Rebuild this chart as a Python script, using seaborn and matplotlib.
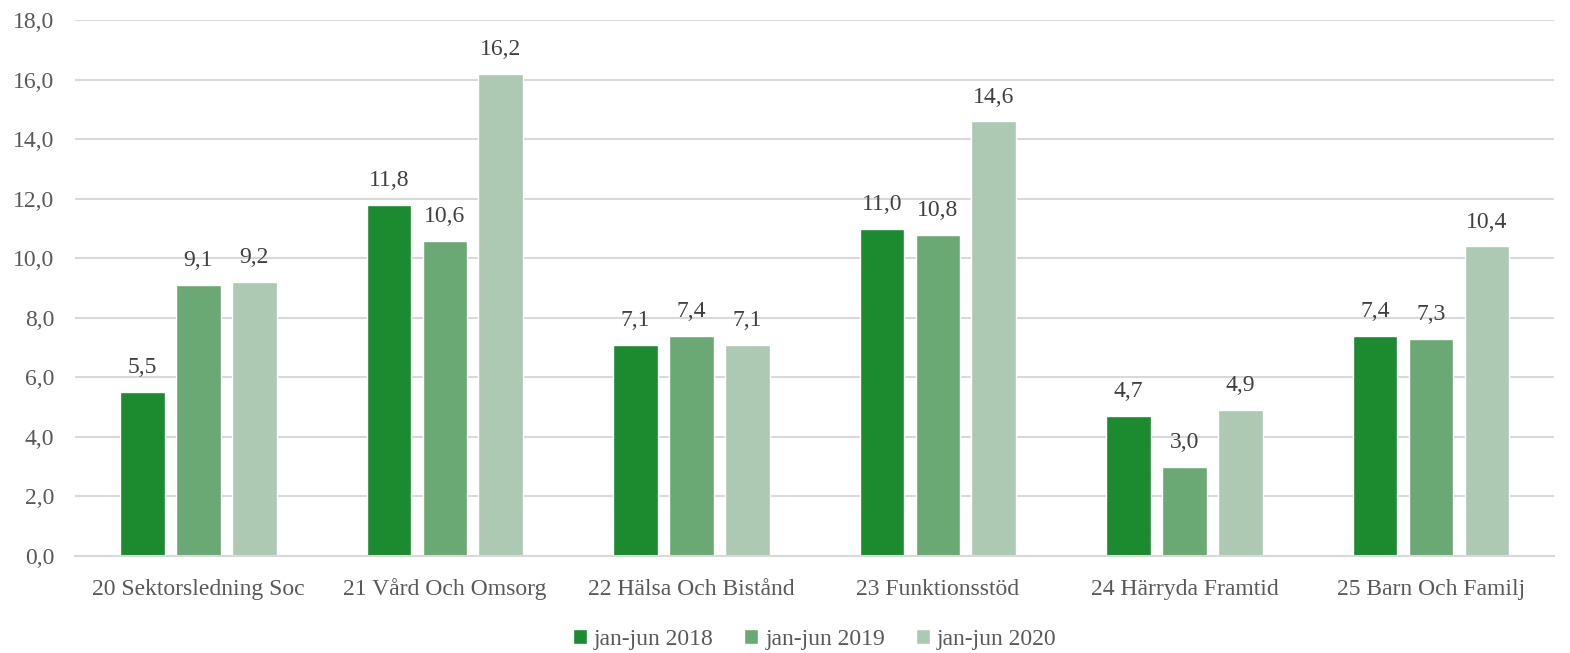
import matplotlib
matplotlib.use("Agg")
import matplotlib.pyplot as plt
import seaborn as sns
import pandas as pd

categories = ["20 Sektorsledning Soc", "21 Vård Och Omsorg", "22 Hälsa Och Bistånd",
              "23 Funktionsstöd", "24 Härryda Framtid", "25 Barn Och Familj"]
series_names = ["jan-jun 2018", "jan-jun 2019", "jan-jun 2020"]
v2018 = [5.5, 11.8, 7.1, 11.0, 4.7, 7.4]
v2019 = [9.1, 10.6, 7.4, 10.8, 3.0, 7.3]
v2020 = [9.2, 16.2, 7.1, 14.6, 4.9, 10.4]
colors = ["#1c8a2f", "#6aa874", "#aec9b3"]

rows = []
for name, vals in zip(series_names, [v2018, v2019, v2020]):
    for c, v in zip(categories, vals):
        rows.append({"cat": c, "series": name, "value": v})
df = pd.DataFrame(rows)

sns.set_style("white")
plt.rcParams['font.family'] = ['Liberation Serif', 'DejaVu Serif']

fig = plt.figure(figsize=(15.7, 6.53), dpi=100)
ax = fig.add_axes([0.0478, 0.1485, 0.9422, 0.8205])
sns.barplot(data=df, x="cat", y="value", hue="series", palette=colors,
            width=0.68, gap=0.2, ax=ax, legend=True, saturation=1)

for cont in ax.containers:
    labels = [f"{v:.1f}".replace(".", ",") for v in cont.datavalues]
    ax.bar_label(cont, labels=labels, padding=10, fontsize=17, color="#404040")

ax.set_ylim(0, 18)
ax.set_yticks(range(0, 19, 2))
ax.set_yticklabels([f"{t:.1f}".replace(".", ",") for t in range(0, 19, 2)])
ax.set_xlim(-0.5, 5.5)
ax.yaxis.grid(True, color="#d9d9d9", lw=1.5)
ax.set_axisbelow(True)
for s in ["top", "right", "left"]:
    ax.spines[s].set_visible(False)
ax.spines["bottom"].set_color("#d9d9d9")
ax.spines["bottom"].set_linewidth(1.5)
ax.tick_params(axis="both", length=0, labelsize=17, colors="#595959")
ax.tick_params(axis="x", pad=28)
ax.tick_params(axis="y", pad=15)
for lab in ax.get_xticklabels():
    lab.set_verticalalignment("baseline")
ax.set_xlabel("")
ax.set_ylabel("")

ax.legend(loc="center", bbox_to_anchor=(0.5, -0.155), ncol=3, frameon=False,
          fontsize=17, labelcolor="#595959", handlelength=0.6, handleheight=0.6,
          handletextpad=0.3, columnspacing=1.3)

fig.savefig("out.png", dpi=100)
